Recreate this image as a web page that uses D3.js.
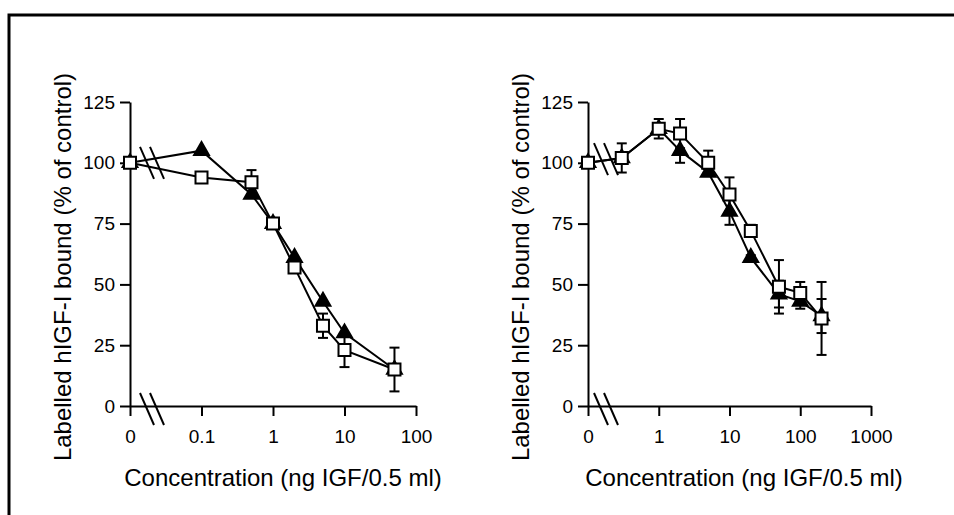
<!DOCTYPE html>
<html>
<head>
<meta charset="utf-8">
<script src="https://cdn.jsdelivr.net/npm/d3@7"></script>
<style>
  html, body { margin: 0; padding: 0; background: #fff; }
  svg { display: block; font-family: "Liberation Sans", Arial, sans-serif; }
  .axis path, .axis line { stroke: #000; stroke-width: 2; }
  .axis text { font-size: 19px; fill: #000; }
</style>
</head>
<body>
<div id="chart"></div>
<script>
// ---- data (% of control) ----
const yTicks = [0, 25, 50, 75, 100, 125];

// left panel
const leftX        = [0, 0.1, 0.5, 1, 2, 5, 10, 50];
const leftTri      = [100, 105, 87, 75, 61, 43, 30, 15];
const leftTriErr   = [0, 0, 0, 0, 0, 0, 0, 0];
const leftSq       = [100, 94, 92, 75, 57, 33, 23, 15];
const leftSqErr    = [0, 0, 5, 0, 0, 5, 7, 9];
const leftTicks    = [0, 0.1, 1, 10, 100];
const leftTickText = ["0", "0.1", "1", "10", "100"];

// right panel
const rightX        = [0, 0.3, 1, 2, 5, 10, 20, 50, 100, 200];
const rightTri      = [100, 102, 114, 105, 96, 80, 61, 46, 43, 37];
const rightTriErr   = [0, 0, 0, 5, 0, 5.5, 1, 5.5, 3, 7];
const rightSq       = [100, 102, 114, 112, 100, 87, 72, 49, 46.5, 36];
const rightSqErr    = [0, 6, 4, 6, 5, 7, 2.5, 11, 4.5, 15];
const rightTicks    = [0, 1, 10, 100, 1000];
const rightTickText = ["0", "1", "10", "100", "1000"];

const xTitle = "Concentration (ng IGF/0.5 ml)";
const yTitle = "Labelled hIGF-I bound (% of control)";

const W = 954, H = 515;
const svg = d3.select("#chart").append("svg").attr("width", W).attr("height", H);

// outer frame (right/bottom edges run off the page)
svg.append("rect").attr("x", 9).attr("y", 15).attr("width", 1000).attr("height", 600)
  .attr("fill", "none").attr("stroke", "#000").attr("stroke-width", 3);

const y = d3.scaleLinear().domain([0, 125]).range([406, 102]);

function panel(o) {
  // zero is drawn one decade left of the first log tick
  const x = d3.scaleLog().domain([o.zero, o.max]).range([o.x0, o.x1]);
  const px = v => x(v === 0 ? o.zero : v);
  const g = svg.append("g");

  g.append("g").attr("class", "axis").attr("transform", `translate(0,${y(0)})`)
    .call(d3.axisBottom(x).tickValues(o.ticks.map(t => t === 0 ? o.zero : t))
      .tickFormat((d, i) => o.tickText[i]).tickSize(10).tickPadding(14).tickSizeOuter(0));
  g.append("g").attr("class", "axis").attr("transform", `translate(${o.x0},0)`)
    .call(d3.axisLeft(y).tickValues(yTicks).tickSize(10).tickPadding(5).tickSizeOuter(0));

  // axis titles
  g.append("text").attr("x", o.xTitleX).attr("y", 486).attr("text-anchor", "middle")
    .attr("font-size", 24).text(xTitle);
  g.append("text").attr("transform", `translate(${o.x0 - 67},267) rotate(-90)`)
    .attr("text-anchor", "middle").attr("dy", "0.35em").attr("font-size", 24).text(yTitle);

  // axis break marks (on x axis and on the data lines)
  const bx = o.x0 + o.breakDx;
  [[bx, y(0) + 3], [bx, y(o.breakY)]].forEach(([cx, cy]) => {
    [-5, 5].forEach(off => {
      g.append("line").attr("x1", cx + off - 7).attr("y1", cy - 16).attr("x2", cx + off + 7).attr("y2", cy + 16)
        .attr("stroke", "#000").attr("stroke-width", 2);
    });
  });

  const line = d3.line().x(d => px(d.x)).y(d => y(d.v));
  const series = [
    { vals: o.tri, err: o.triErr, sym: d3.symbolTriangle, size: 95, fill: "#000" },
    { vals: o.sq, err: o.sqErr, sym: d3.symbolSquare, size: 144, fill: "#fff" },
  ];
  series.forEach(s => {
    const pts = o.xs.map((xv, i) => ({ x: xv, v: s.vals[i], e: s.err[i] }));
    g.append("path").datum(pts).attr("d", line).attr("fill", "none").attr("stroke", "#000").attr("stroke-width", 2);
    const eb = g.append("g").selectAll("g").data(pts.filter(d => d.e > 0)).join("g")
      .attr("stroke", "#000").attr("stroke-width", 2);
    eb.append("line").attr("x1", d => px(d.x)).attr("x2", d => px(d.x))
      .attr("y1", d => y(d.v + d.e)).attr("y2", d => y(d.v - d.e));
    [1, -1].forEach(sg => eb.append("line").attr("x1", d => px(d.x) - 5).attr("x2", d => px(d.x) + 5)
      .attr("y1", d => y(d.v + sg * d.e)).attr("y2", d => y(d.v + sg * d.e)));
    g.append("g").selectAll("path").data(pts).join("path")
      .attr("transform", d => `translate(${px(d.x)},${y(d.v)})`)
      .attr("d", d3.symbol(s.sym, s.size)).attr("fill", s.fill)
      .attr("stroke", "#000").attr("stroke-width", 2);
  });
}

panel({ xs: leftX, tri: leftTri, triErr: leftTriErr, sq: leftSq, sqErr: leftSqErr,
  ticks: leftTicks, tickText: leftTickText, zero: 0.01, max: 100, x0: 130, x1: 416,
  xTitleX: 283, breakDx: 22, breakY: 100 });
panel({ xs: rightX, tri: rightTri, triErr: rightTriErr, sq: rightSq, sqErr: rightSqErr,
  ticks: rightTicks, tickText: rightTickText, zero: 0.1, max: 1000, x0: 588, x1: 871,
  xTitleX: 744, breakDx: 18, breakY: 101.5 });
</script>
</body>
</html>
